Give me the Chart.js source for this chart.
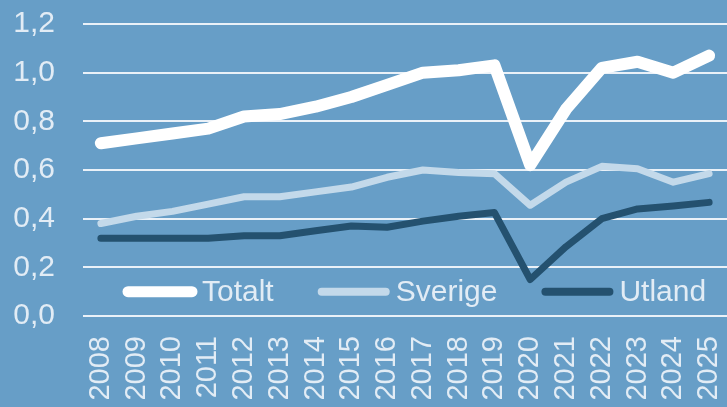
<!DOCTYPE html>
<html lang="sv">
<head>
    <meta charset="UTF-8">
    <title>Totalt, Sverige, Utland</title>
    <script src="https://cdn.jsdelivr.net/npm/chart.js"></script>
    <style>
        html, body { margin: 0; padding: 0; background: #679ec7; }
        canvas { display: block; }
    </style>
</head>
<body>
    <canvas id="myChart" width="727" height="407"></canvas>

    <script>
        const years = ['2008', '2009', '2010', '2011', '2012', '2013', '2014', '2015', '2016',
                       '2017', '2018', '2019', '2020', '2021', '2022', '2023', '2024', '2025'];
        const totalt  = [0.71, 0.73, 0.75, 0.77, 0.82, 0.83, 0.86, 0.90, 0.95, 1.00, 1.01, 1.03, 0.62, 0.85, 1.02, 1.045, 1.00, 1.07];
        const sverige = [0.38, 0.41, 0.43, 0.46, 0.49, 0.49, 0.51, 0.53, 0.57, 0.60, 0.59, 0.585, 0.455, 0.55, 0.615, 0.605, 0.55, 0.585];
        const utland  = [0.32, 0.32, 0.32, 0.32, 0.33, 0.33, 0.35, 0.37, 0.365, 0.39, 0.41, 0.425, 0.15, 0.285, 0.40, 0.44, 0.452, 0.467];
        const yTicks = [0, 0.2, 0.4, 0.6, 0.8, 1.0, 1.2];

        const textColor = '#e2ecf5';
        const fontFamily = '"Liberation Sans", Arial, sans-serif';

        // legend sits inside the plot, just above the zero line
        const innerLegend = {
            id: 'innerLegend',
            afterDraw(chart) {
                const ctx = chart.ctx;
                const area = chart.chartArea;
                const y = chart.scales.y.getPixelForValue(0.1);
                const lineLen = 64, gapText = 10, gapItem = 48;
                ctx.save();
                ctx.font = '30px ' + fontFamily;
                ctx.textBaseline = 'middle';
                let x = area.left + 45;
                chart.data.datasets.forEach(ds => {
                    ctx.strokeStyle = ds.borderColor;
                    ctx.lineWidth = ds.legendWidth;
                    ctx.lineCap = 'round';
                    ctx.beginPath();
                    ctx.moveTo(x, y);
                    ctx.lineTo(x + lineLen, y);
                    ctx.stroke();
                    ctx.fillStyle = textColor;
                    ctx.fillText(ds.label, x + lineLen + gapText, y + 1);
                    x += lineLen + gapText + ctx.measureText(ds.label).width + gapItem;
                });
                ctx.restore();
            }
        };

        const ctx = document.getElementById('myChart').getContext('2d');
        const myChart = new Chart(ctx, {
            type: 'line',
            data: {
                labels: years,
                datasets: [{
                    label: 'Totalt',
                    data: totalt,
                    borderColor: '#ffffff',
                    borderWidth: 12,
                    legendWidth: 11,
                    order: 1
                }, {
                    label: 'Sverige',
                    data: sverige,
                    borderColor: '#c3d9ea',
                    borderWidth: 7,
                    legendWidth: 8,
                    order: 2
                }, {
                    label: 'Utland',
                    data: utland,
                    borderColor: '#24516f',
                    borderWidth: 7,
                    legendWidth: 8,
                    order: 3
                }]
            },
            options: {
                responsive: false,
                animation: false,
                layout: { padding: { top: 24, right: 0, left: 0, bottom: 0 } },
                elements: {
                    point: { radius: 0, hoverRadius: 0 },
                    line: { tension: 0, borderCapStyle: 'round', borderJoinStyle: 'round' }
                },
                plugins: {
                    legend: { display: false },
                    tooltip: { enabled: false }
                },
                scales: {
                    x: {
                        offset: true,
                        grid: { display: false, drawTicks: false },
                        border: { display: false },
                        ticks: {
                            color: textColor,
                            font: { size: 29, family: fontFamily },
                            minRotation: 90,
                            maxRotation: 90,
                            autoSkip: false,
                            padding: 20
                        },
                        afterFit(scale) {
                            scale.height = 91;
                            scale.paddingLeft = 0;
                            scale.paddingRight = 0;
                        }
                    },
                    y: {
                        min: 0,
                        max: 1.2,
                        afterBuildTicks(scale) {
                            scale.ticks = yTicks.map(v => ({ value: v }));
                        },
                        grid: { color: '#eaf1f8', lineWidth: 2, drawTicks: false },
                        border: { display: false },
                        ticks: {
                            color: textColor,
                            font: { size: 30, family: fontFamily },
                            padding: 28,
                            callback: v => v.toFixed(1).replace('.', ',')
                        },
                        afterFit(scale) {
                            scale.width = 83;
                            scale.paddingTop = 0;
                            scale.paddingBottom = 0;
                        }
                    }
                }
            },
            plugins: [innerLegend]
        });
    </script>
</body>
</html>
